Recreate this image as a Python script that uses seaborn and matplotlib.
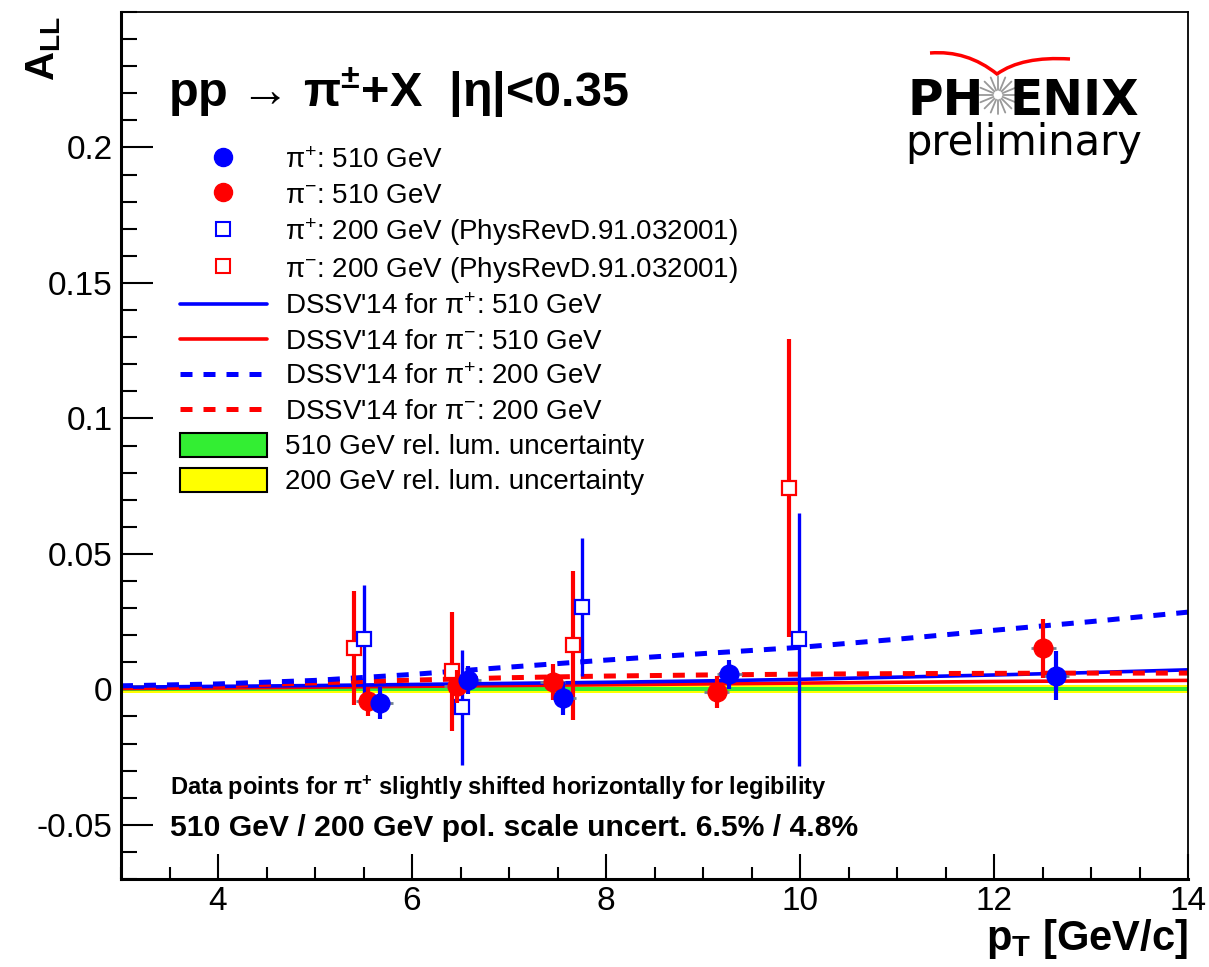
import matplotlib
matplotlib.use("Agg")
import matplotlib.pyplot as plt
import seaborn as sns
from matplotlib.lines import Line2D
from matplotlib.patches import Patch, PathPatch
from matplotlib.path import Path
import numpy as np

# --- data ---
pt_pip510 = [5.67, 6.58, 7.56, 9.27, 12.64]
all_pip510 = [-0.0051, 0.0033, -0.0033, 0.0055, 0.0051]
err_pip510 = [0.0060, 0.0052, 0.0060, 0.0052, 0.0092]

pt_pim510 = [5.55, 6.46, 7.45, 9.14, 12.51]
all_pim510 = [-0.0044, 0.0011, 0.0026, -0.0011, 0.0151]
err_pim510 = [0.0053, 0.0060, 0.0066, 0.0059, 0.0110]

pt_pip200 = [5.50, 6.52, 7.75, 9.99]
all_pip200 = [0.0184, -0.0066, 0.0305, 0.0184]
err_pip200 = [0.0200, 0.0213, 0.0255, 0.0468]

pt_pim200 = [5.40, 6.41, 7.66, 9.89]
all_pim200 = [0.0154, 0.0066, 0.0162, 0.0743]
err_pim200 = [0.0210, 0.0220, 0.0275, 0.0550]

pt_halfwidth = 0.13

theory_pt = [3, 4, 5, 6, 7, 8, 9, 10, 11, 12, 13, 14]
dssv_pip510 = [0.0008, 0.0011, 0.0014, 0.0018, 0.0022, 0.0026, 0.0031, 0.0037, 0.0045, 0.0053, 0.0062, 0.0072]
dssv_pim510 = [0.0003, 0.0005, 0.0008, 0.0011, 0.0014, 0.0017, 0.0020, 0.0023, 0.0026, 0.0029, 0.0031, 0.0033]
dssv_pip200 = [0.0013, 0.0020, 0.0033, 0.0055, 0.0082, 0.0108, 0.0132, 0.0155, 0.0185, 0.0218, 0.0250, 0.0285]
dssv_pim200 = [0.0007, 0.0013, 0.0024, 0.0034, 0.0043, 0.0049, 0.0053, 0.0056, 0.0058, 0.0059, 0.0060, 0.0060]

lum510 = 0.0007
lum200 = 0.0015

legend_labels = [
    "π$^{+}$: 510 GeV",
    "π$^{-}$: 510 GeV",
    "π$^{+}$: 200 GeV (PhysRevD.91.032001)",
    "π$^{-}$: 200 GeV (PhysRevD.91.032001)",
    "DSSV'14 for π$^{+}$: 510 GeV",
    "DSSV'14 for π$^{-}$: 510 GeV",
    "DSSV'14 for π$^{+}$: 200 GeV",
    "DSSV'14 for π$^{-}$: 200 GeV",
    "510 GeV rel. lum. uncertainty",
    "200 GeV rel. lum. uncertainty",
]

sns.set_theme(style="ticks")
plt.rcParams["font.family"] = ["Liberation Sans", "DejaVu Sans"]
plt.rcParams["mathtext.default"] = "regular"
plt.rcParams["text.color"] = "black"
plt.rcParams["axes.labelcolor"] = "black"

W, H = 1209, 967
fig = plt.figure(figsize=(W / 100, H / 100), dpi=100)
ax = fig.add_axes([121 / W, 1 - 879 / H, (1188 - 121) / W, (879 - 12) / H])


def fx(px):
    return px / W


def fy(py):
    return 1 - py / H


GREEN = "#33ee33"
YELLOW = "#ffff00"
dash = (0, (2.4, 2.2))

# luminosity bands
ax.fill_between([3, 14], -lum200, lum200, color=YELLOW, lw=0, zorder=1)
ax.fill_between([3, 14], -lum510, lum510, color=GREEN, lw=0, zorder=1.1)

# DSSV'14 curves
sns.lineplot(x=theory_pt, y=dssv_pim510, color="red", lw=2.6, ax=ax, zorder=2)
sns.lineplot(x=theory_pt, y=dssv_pip510, color="blue", lw=2.6, ax=ax, zorder=2)
sns.lineplot(x=theory_pt, y=dssv_pim200, color="red", lw=3.6, linestyle=dash, ax=ax, zorder=2)
sns.lineplot(x=theory_pt, y=dssv_pip200, color="blue", lw=3.6, linestyle=dash, ax=ax, zorder=2)

# 200 GeV data (open squares)
ax.errorbar(pt_pim200, all_pim200, yerr=err_pim200, fmt="s", ms=10, mfc="white",
            mec="red", mew=1.6, ecolor="red", elinewidth=3, zorder=3)
ax.errorbar(pt_pip200, all_pip200, yerr=err_pip200, fmt="s", ms=10, mfc="white",
            mec="blue", mew=1.6, ecolor="blue", elinewidth=2.4, zorder=3)

# 510 GeV data (filled circles)
for pt, a, e, c in [(pt_pim510, all_pim510, err_pim510, "red"),
                    (pt_pip510, all_pip510, err_pip510, "blue")]:
    ax.errorbar(pt, a, xerr=pt_halfwidth, fmt="none", ecolor="#708090",
                elinewidth=2, zorder=3.5)
    ax.errorbar(pt, a, yerr=e, fmt="o", ms=13.5, color=c, mec=c,
                ecolor=c, elinewidth=3, zorder=4)

ax.set_xlim(3, 14)
ax.set_ylim(-0.07, 0.25)
ax.set_xticks([4, 6, 8, 10, 12, 14])
ax.set_xticklabels(["4", "6", "8", "10", "12", "14"])
ax.set_xticks(np.arange(3, 14.01, 0.5), minor=True)
ax.set_yticks([-0.05, 0, 0.05, 0.1, 0.15, 0.2])
ax.set_yticklabels(["-0.05", "0", "0.05", "0.1", "0.15", "0.2"])
ax.set_yticks(np.arange(-0.07, 0.2501, 0.01), minor=True)
ax.tick_params(axis="both", which="both", direction="in", colors="black",
               labelsize=24, width=1.5, top=False, right=False)
ax.tick_params(axis="y", which="major", length=23, pad=6)
ax.tick_params(axis="y", which="minor", length=11.5)
ax.tick_params(axis="x", which="major", length=18, pad=5)
ax.tick_params(axis="x", which="minor", length=9)
for s in ["left", "bottom"]:
    ax.spines[s].set_linewidth(2.2)
for s in ["top", "right"]:
    ax.spines[s].set_linewidth(1.3)
for s in ax.spines.values():
    s.set_color("black")
ax.set_xlabel("")
ax.set_ylabel("")

# axis titles
fig.text(fx(1188), fy(950), "p$_{T}$ [GeV/c]", fontsize=30, fontweight="bold",
         ha="right", va="baseline")
fig.text(fx(44), fy(16), "A$_{LL}$", fontsize=29, fontweight="bold",
         rotation=90, ha="center", va="top")

# title
fig.text(fx(168), fy(93), "pp → π$^{\\pm}$+X  |η|<0.35", fontsize=35,
         fontweight="bold", ha="left", va="center")

# legend
handles = [
    Line2D([], [], ls="none", marker="o", ms=13, color="blue"),
    Line2D([], [], ls="none", marker="o", ms=13, color="red"),
    Line2D([], [], ls="none", marker="s", ms=10, mfc="white", mec="blue", mew=1.5),
    Line2D([], [], ls="none", marker="s", ms=10, mfc="white", mec="red", mew=1.5),
    Line2D([], [], color="blue", lw=2.6),
    Line2D([], [], color="red", lw=2.6),
    Line2D([], [], color="blue", lw=3.6, ls=dash),
    Line2D([], [], color="red", lw=3.6, ls=dash),
    Patch(facecolor=GREEN, edgecolor="black", lw=1.5),
    Patch(facecolor=YELLOW, edgecolor="black", lw=1.5),
]
fig.legend(handles, legend_labels, loc="upper left", bbox_to_anchor=(fx(180), fy(146)),
           frameon=False, fontsize=20, borderpad=0, borderaxespad=0,
           handlelength=3.13, handleheight=0.95, handletextpad=0.65,
           labelspacing=0.27, numpoints=1)

# notes
fig.text(fx(170), fy(788), "Data points for π$^{+}$ slightly shifted horizontally for legibility",
         fontsize=17, fontweight="bold", ha="left", va="center")
fig.text(fx(170), fy(828), "510 GeV / 200 GeV pol. scale uncert. 6.5% / 4.8%",
         fontsize=21.7, fontweight="bold", ha="left", va="center")

# PHENIX preliminary logo
fig.text(fx(907), fy(115), "PH", fontsize=35, fontweight="bold", family="DejaVu Sans",
         ha="left", va="baseline")
fig.text(fx(1010), fy(115), "ENIX", fontsize=35, fontweight="bold", family="DejaVu Sans",
         ha="left", va="baseline")
fig.text(fx(905), fy(155), "preliminary", fontsize=30, family="DejaVu Sans",
         ha="left", va="baseline")
cx, cy = 998, 95
for ang in np.linspace(0, 2 * np.pi, 16, endpoint=False):
    x0, y0 = cx + 5 * np.cos(ang), cy + 5 * np.sin(ang)
    x1, y1 = cx + 19 * np.cos(ang), cy + 19 * np.sin(ang)
    fig.add_artist(Line2D([fx(x0), fx(x1)], [fy(y0), fy(y1)], color="#999999",
                          lw=1.3, transform=fig.transFigure))
arc = Path([(fx(930), fy(53)), (fx(967), fy(50)), (fx(997), fy(74)),
            (fx(1022), fy(56)), (fx(1070), fy(59))],
           [Path.MOVETO, Path.CURVE3, Path.CURVE3, Path.CURVE3, Path.CURVE3])
fig.add_artist(PathPatch(arc, facecolor="none", edgecolor="red", lw=2.5,
                         transform=fig.transFigure))

fig.savefig("out.png", dpi=100)
